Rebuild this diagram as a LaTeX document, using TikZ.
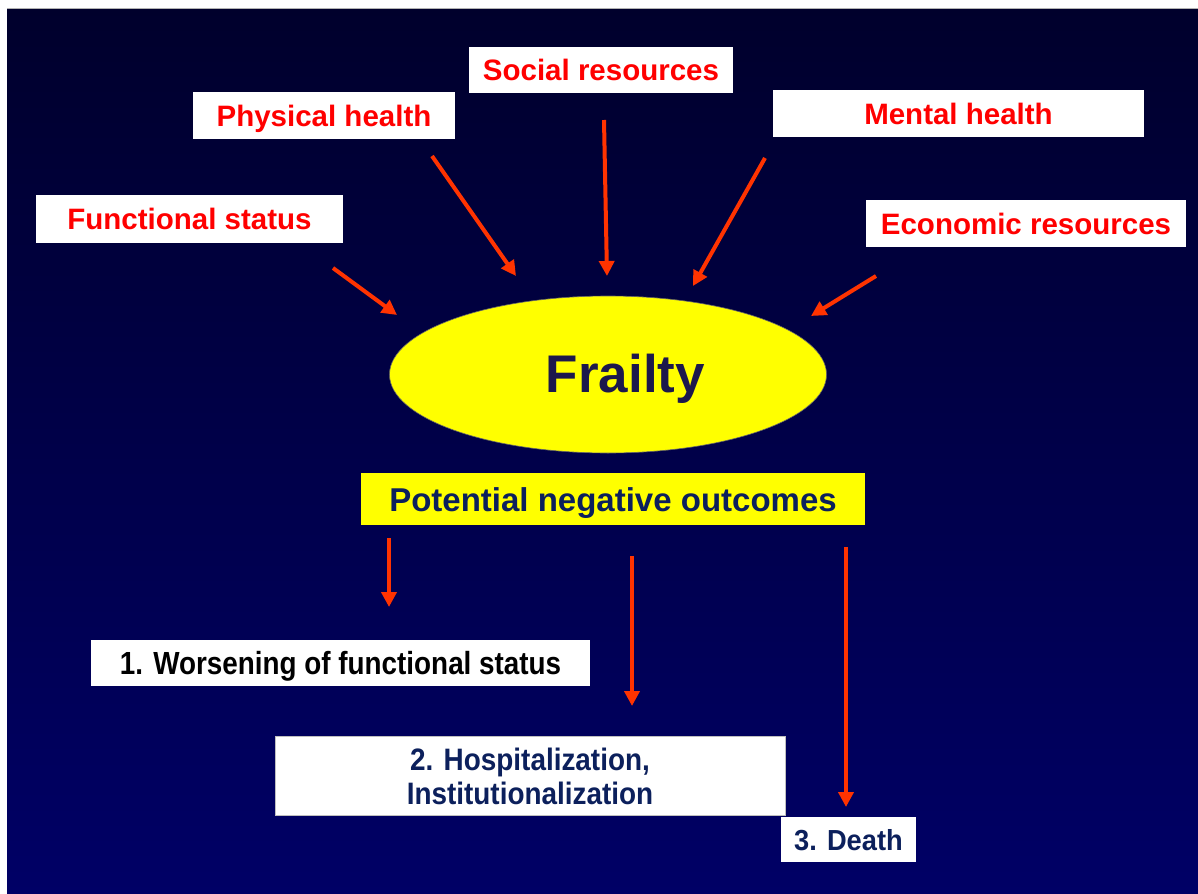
\documentclass[tikz,border=0pt]{standalone}
\usepackage{fontspec}
\setmainfont{Liberation Sans}
\newfontfamily\narrowA[FakeStretch=0.87]{Liberation Sans}
\newfontfamily\narrowB[FakeStretch=0.9]{Liberation Sans}
\newfontfamily\narrowC[FakeStretch=0.94]{Liberation Sans}
\usetikzlibrary{arrows.meta,shapes.geometric}
\definecolor{fred}{RGB}{255,0,0}
\definecolor{farrow}{RGB}{255,51,0}
\definecolor{fyellow}{RGB}{255,255,0}
\definecolor{ftxt}{RGB}{28,24,76}
\definecolor{fblue}{RGB}{12,32,92}
\definecolor{bgtop}{RGB}{0,0,44}
\definecolor{bgbot}{RGB}{0,0,102}
\tikzset{
  redbox/.style={fill=white, text=fred, inner sep=0pt, text height=21bp, text depth=0pt,
    font=\bfseries\fontsize{29.5bp}{34bp}\selectfont},
  outbox/.style={fill=white, inner sep=0pt, text height=23bp, text depth=0pt},
  flow/.style={draw=farrow, line width=4bp, -{Triangle[width=15bp,length=15bp]}}
}
\begin{document}
\begin{tikzpicture}[x=1bp,y=-1bp]
\useasboundingbox (0,0) rectangle (1198,894);
\shade[top color=bgtop, bottom color=bgbot] (7,8) rectangle (1198,894);
\draw[gray!60, line width=1bp] (7,8) -- (1198,8);

% input boxes
\node[redbox, minimum width=264bp, minimum height=46bp] (social) at (601,70) {Social resources};
\node[redbox, minimum width=262bp, minimum height=47bp] (physical) at (324,115.5) {Physical health};
\node[redbox, minimum width=371bp, minimum height=47bp] (mental) at (958.5,113.5) {Mental health};
\node[redbox, minimum width=307bp, minimum height=48bp] (functional) at (189.5,219) {Functional status};
\node[redbox, minimum width=320bp, minimum height=47bp] (economic) at (1026,223.5) {Economic resources};

% frailty
\node[ellipse, fill=fyellow, draw=black!60, line width=0.6bp, minimum width=437bp, minimum height=157bp, inner sep=0pt] (frailty) at (608,374.5) {};
\node[text=ftxt, inner sep=0pt, text height=38bp, text depth=0pt,
  font=\bfseries\fontsize{53bp}{60bp}\selectfont] (frailtytext) at (625.5,373.5) {Frailty};

\node[fill=fyellow, text=fblue, inner sep=0pt, text height=24bp, text depth=0pt,
  minimum width=504bp, minimum height=52bp,
  font=\bfseries\fontsize{33bp}{38bp}\selectfont] (potential) at (613,499) {Potential negative outcomes};

% outcome boxes
\node[outbox, text=black, minimum width=499bp, minimum height=46bp,
  font=\narrowA\bfseries\fontsize{32bp}{36bp}\selectfont] (worse) at (340.5,663) {1. Worsening of functional status};
\node[fill=white, draw=gray!50, line width=0.6bp, text=fblue, inner sep=0pt, align=center,
  minimum width=510bp, minimum height=79bp,
  font=\narrowB\bfseries\fontsize{31bp}{34bp}\selectfont] (hosp) at (530,776) {2. Hospitalization,\\Institutionalization};
\node[outbox, text=fblue, text height=21bp, minimum width=135bp, minimum height=45bp,
  font=\narrowC\bfseries\fontsize{29bp}{34bp}\selectfont] (death) at (848.5,839.5) {3. Death};

% arrow end points
\coordinate (fs) at (333,268);  \coordinate (fe) at (397,315);
\coordinate (ps) at (432,156);  \coordinate (pe) at (516,276);
\coordinate (ss) at (604,120);  \coordinate (se) at (607,276);
\coordinate (ms) at (765,158);  \coordinate (me) at (693,286);
\coordinate (es) at (876,276);  \coordinate (ee) at (811,316);
\coordinate (o1s) at (389,538); \coordinate (o1e) at (389,607);
\coordinate (o2s) at (632,556); \coordinate (o2e) at (632,706);
\coordinate (o3s) at (846,547); \coordinate (o3e) at (846,807);

\draw[flow] (fs) -- (fe);
\draw[flow] (ps) -- (pe);
\draw[flow] (ss) -- (se);
\draw[flow] (ms) -- (me);
\draw[flow] (es) -- (ee);
\draw[flow] (o1s) -- (o1e);
\draw[flow] (o2s) -- (o2e);
\draw[flow] (o3s) -- (o3e);
\end{tikzpicture}
\end{document}
